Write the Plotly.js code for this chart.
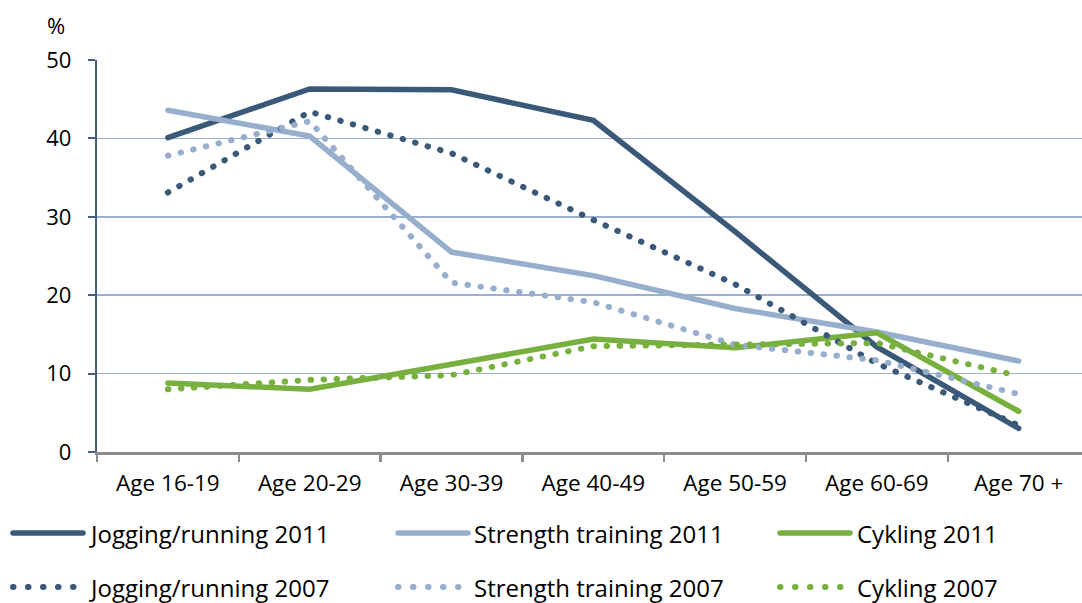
<!DOCTYPE html>
<html>
<head>
<meta charset="utf-8">
<script src="https://cdn.plot.ly/plotly-3.0.1.min.js"></script>
<style>
html,body{margin:0;padding:0;background:#fff;}
#chart{width:1082px;height:603px;}
.js-line, .shapelayer path { stroke-linecap: round; }
</style>
</head>
<body>
<div id="chart"></div>
<script>
// ---- data ----
const ages = ['Age 16-19','Age 20-29','Age 30-39','Age 40-49','Age 50-59','Age 60-69','Age 70 +'];
const jogging2011  = [40.1, 46.3, 46.2, 42.3, 28.1, 13.4, 3.0];
const strength2011 = [43.6, 40.3, 25.5, 22.5, 18.3, 15.3, 11.6];
const cykling2011  = [8.8, 8.0, 11.2, 14.4, 13.3, 15.2, 5.2];
const jogging2007  = [33.1, 43.4, 38.1, 29.6, 21.4, 11.3, 3.4];
const strength2007 = [37.8, 42.2, 21.6, 19.1, 13.7, 11.7, 7.4];
const cykling2007  = [8.0, 9.2, 9.8, 13.5, 13.7, 13.9, 9.7];
const seriesNames = ['Jogging/running 2011','Strength training 2011','Cykling 2011',
                     'Jogging/running 2007','Strength training 2007','Cykling 2007'];
const yTickVals = [0, 10, 20, 30, 40, 50];

// ---- styles ----
const DARK = '#3A5878', LIGHT = '#98AECD', GREEN = '#78B040';
const DOT = '0.5px,12.5px';
const series = [
  {y: jogging2011,  color: DARK,  width: 5.5, dash: 'solid'},
  {y: strength2011, color: LIGHT, width: 5.5, dash: 'solid'},
  {y: cykling2011,  color: GREEN, width: 5.5, dash: 'solid'},
  {y: jogging2007,  color: DARK,  width: 6,   dash: DOT},
  {y: strength2007, color: LIGHT, width: 6,   dash: DOT},
  {y: cykling2007,  color: GREEN, width: 6,   dash: DOT}
];

const traces = series.map((s, i) => ({
  type: 'scatter', mode: 'lines', x: ages, y: s.y, name: seriesNames[i],
  line: {color: s.color, width: s.width, dash: s.dash}, hoverinfo: 'skip'
}));

// plot geometry (pixels) used to place legend in paper coords
const L = 97, R = 1082, T = 60, B = 452;
const px = x => (x - L) / (R - L);
const py = y => (B - y) / (B - T);

const FONT = 'Open Sans, sans-serif';
const TXT = '#000';
const shapes = [], annotations = [];
const legendCols = [{x0: 13, x1: 83, tx: 87}, {x0: 398, x1: 468, tx: 472}, {x0: 780, x1: 850, tx: 855}];
const legendRows = [533, 587];
seriesNames.forEach((nm, i) => {
  const c = legendCols[i % 3], r = legendRows[Math.floor(i / 3)], s = series[i];
  const dotted = s.dash !== 'solid';
  shapes.push({type: 'line', xref: 'paper', yref: 'paper',
    x0: px(c.x0), x1: px(dotted ? c.x1 - 9 : c.x1), y0: py(r), y1: py(r),
    line: {color: s.color, width: s.width, dash: dotted ? '0.5px,14.5px' : 'solid'}});
  annotations.push({xref: 'paper', yref: 'paper', x: px(c.tx), y: py(r),
    xanchor: 'left', yanchor: 'middle', showarrow: false, text: nm,
    font: {family: FONT, size: 24, color: TXT}});
});
annotations.push({xref: 'paper', yref: 'paper', x: px(45), y: py(25), xanchor: 'left', yanchor: 'middle',
  showarrow: false, text: '%', font: {family: FONT, size: 22, color: TXT}});

const layout = {
  width: 1082, height: 603,
  margin: {l: L, r: 1082 - R, t: T, b: 603 - B},
  paper_bgcolor: '#fff', plot_bgcolor: '#fff',
  showlegend: false,
  font: {family: FONT, size: 22, color: TXT},
  xaxis: {
    type: 'category', range: [-0.5, -0.5 + (R - L) / 141.8],
    tickson: 'boundaries', ticks: 'outside', ticklen: 7, tickwidth: 2.5, tickcolor: '#8C8C8C',
    showline: true, linecolor: '#8C8C8C', linewidth: 2.5, showgrid: false, zeroline: false,
    ticklabelstandoff: 9, tickfont: {family: FONT, size: 22.5, color: TXT}
  },
  yaxis: {
    range: [0, 50], tickvals: yTickVals, ticktext: yTickVals.map(String),
    ticks: 'outside', ticklen: 7, tickwidth: 2, tickcolor: '#41607F',
    showline: true, linecolor: '#41607F', linewidth: 2.3,
    showgrid: true, gridcolor: '#9AB0CE', gridwidth: 1.6, zeroline: false,
    ticklabelstandoff: 12, tickfont: {family: FONT, size: 22, color: TXT}
  },
  shapes: shapes, annotations: annotations
};

Plotly.newPlot('chart', traces, layout, {staticPlot: true, displayModeBar: false});
</script>
</body>
</html>
